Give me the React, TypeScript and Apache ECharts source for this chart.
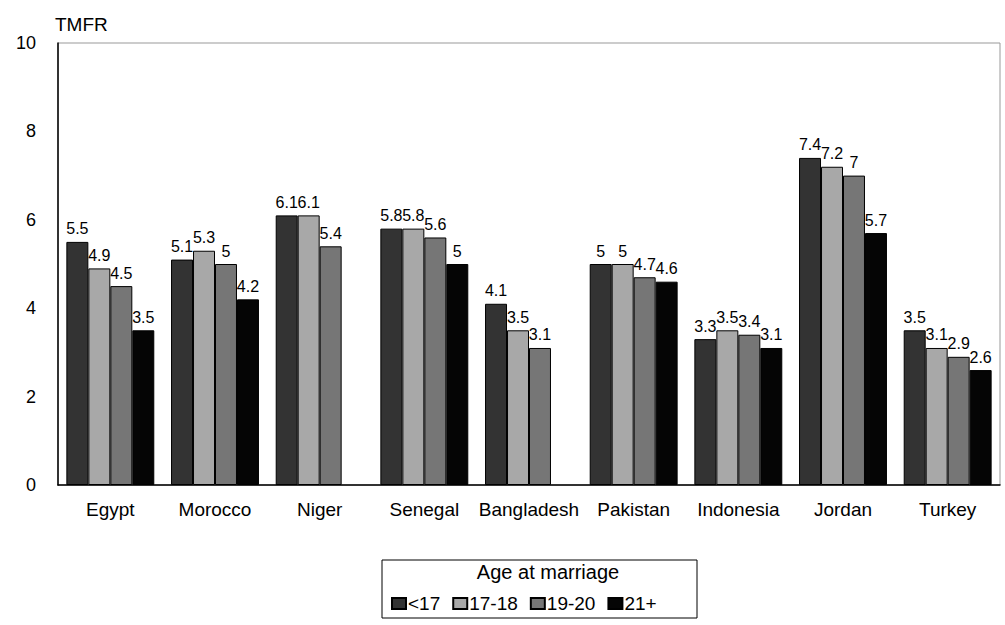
import React, { useEffect, useRef } from "react";
import * as echarts from "echarts";

const categories = ["Egypt", "Morocco", "Niger", "Senegal", "Bangladesh", "Pakistan", "Indonesia", "Jordan", "Turkey"];
const seriesNames = ["<17", "17-18", "19-20", "21+"];
const under17 = [5.5, 5.1, 6.1, 5.8, 4.1, 5, 3.3, 7.4, 3.5];
const age17to18 = [4.9, 5.3, 6.1, 5.8, 3.5, 5, 3.5, 7.2, 3.1];
const age19to20 = [4.5, 5, 5.4, 5.6, 3.1, 4.7, 3.4, 7, 2.9];
const age21plus = [3.5, 4.2, null, 5, null, 4.6, 3.1, 5.7, 2.6];
const yTicks = [0, 2, 4, 6, 8, 10];

const seriesData = [under17, age17to18, age19to20, age21plus];
const colors = ["#333333", "#a8a8a8", "#767676", "#050505"];

export default function App() {
  const ref = useRef<HTMLDivElement>(null);
  useEffect(() => {
    if (!ref.current) return;
    const chart = echarts.init(ref.current, null, { renderer: "svg" });
    const font = "'Liberation Sans', Arial, sans-serif";
    chart.setOption({
      animation: false,
      textStyle: { fontFamily: font },
      grid: {
        left: 58,
        right: 5,
        top: 43,
        bottom: 140,
        show: true,
        borderColor: "#999",
        borderWidth: 1,
      },
      xAxis: {
        type: "category",
        data: categories,
        axisLine: { lineStyle: { color: "#000", width: 1.5 } },
        axisTick: { show: false },
        axisLabel: { color: "#000", fontSize: 19, margin: 15, interval: 0, fontFamily: font },
      },
      yAxis: {
        type: "value",
        min: 0,
        max: 10,
        interval: 2,
        axisLine: { show: true, lineStyle: { color: "#000", width: 1.5 } },
        axisTick: { show: false },
        splitLine: { show: false },
        axisLabel: {
          color: "#000",
          fontSize: 18,
          margin: 22,
          fontFamily: font,
          formatter: (v: number) => (yTicks.includes(v) ? String(v) : ""),
        },
      },
      legend: {
        left: 386,
        top: 589,
        itemWidth: 14,
        itemHeight: 11,
        itemGap: 12,
        icon: "rect",
        textStyle: { color: "#000", fontSize: 19, padding: [0, 0, 0, -3], fontFamily: font },
        data: seriesNames,
      },
      graphic: [
        {
          type: "text",
          x: 55,
          y: 15,
          style: { text: "TMFR", fontSize: 19, fill: "#000", fontFamily: font },
        },
        {
          type: "rect",
          shape: { x: 382, y: 560, width: 315, height: 58 },
          style: { fill: "none", stroke: "#000", lineWidth: 1 },
        },
        {
          type: "text",
          x: 548,
          y: 562,
          style: { text: "Age at marriage", fontSize: 20, fill: "#000", align: "center", fontFamily: font },
        },
      ],
      series: seriesNames.map((name, i) => ({
        name,
        type: "bar",
        data: seriesData[i],
        barGap: "0%",
        barCategoryGap: "16%",
        itemStyle: { color: colors[i], borderColor: "#000", borderWidth: 1 },
        label: {
          show: true,
          position: "top",
          distance: 5,
          color: "#000",
          fontSize: 16,
          fontFamily: font,
        },
      })),
    });
    return () => chart.dispose();
  }, []);
  return (
    <div
      ref={ref}
      style={{ position: "fixed", left: 0, top: 0, width: 1005, height: 625, background: "#fff" }}
    />
  );
}
